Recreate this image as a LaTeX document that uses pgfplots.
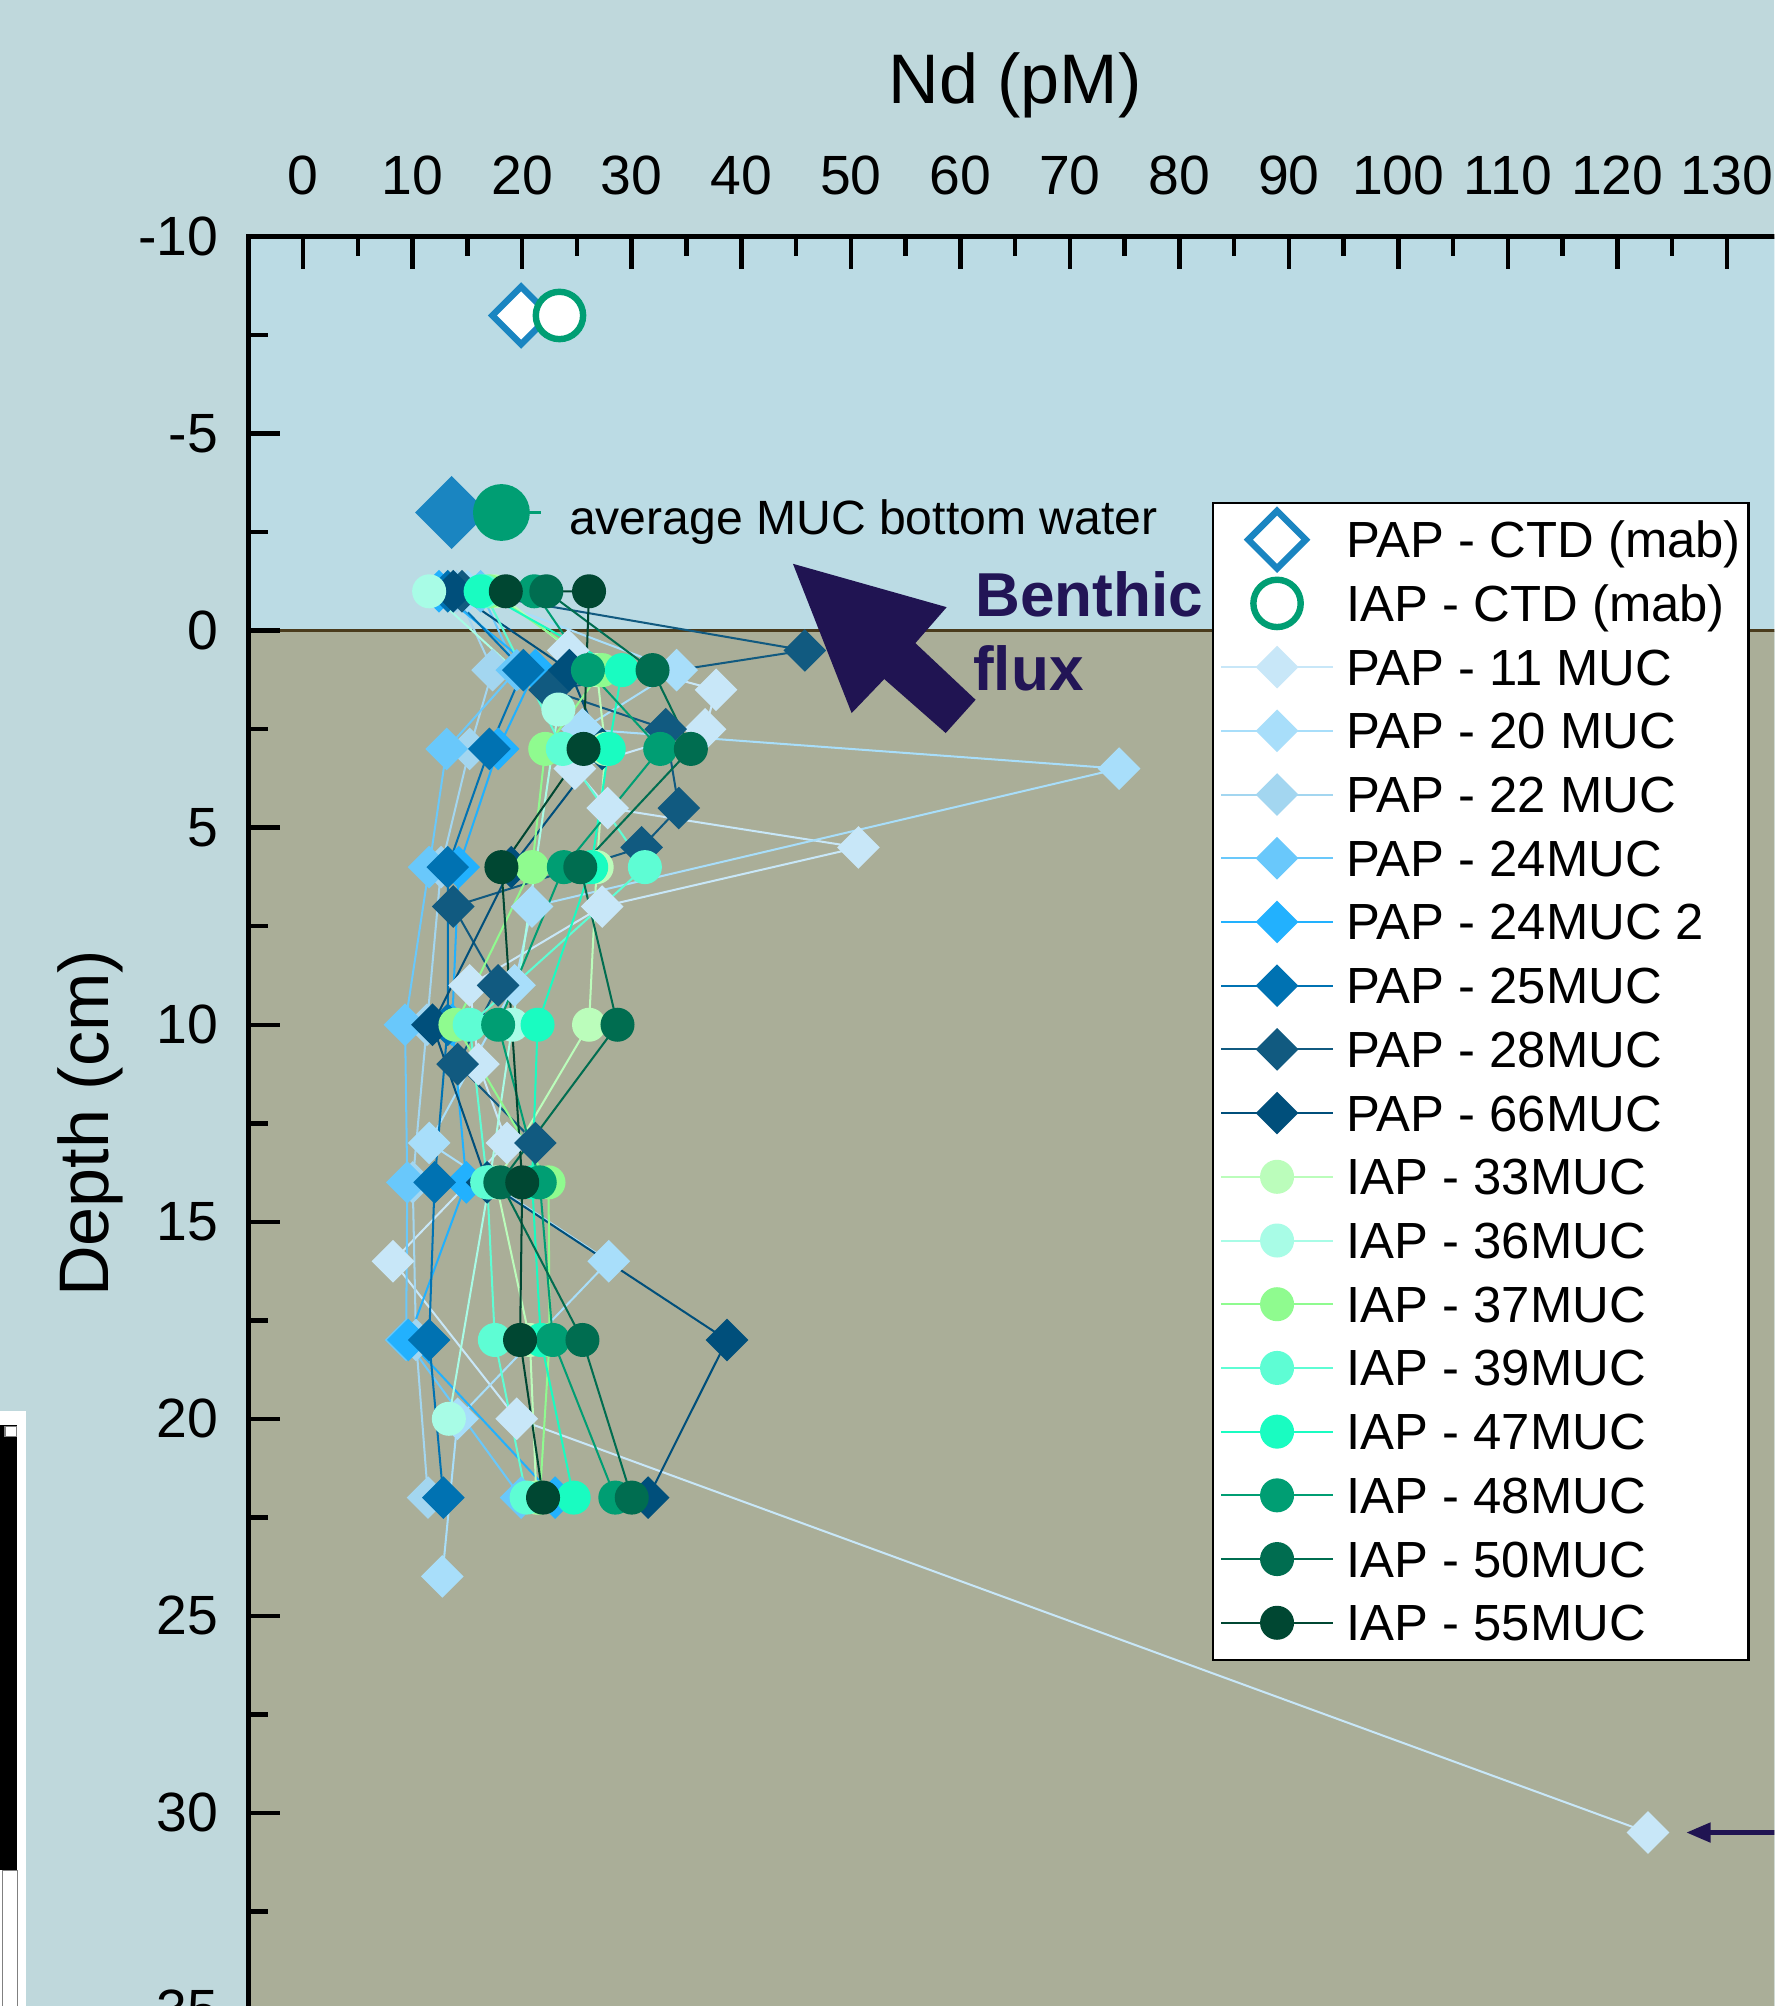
\documentclass[border=0pt]{standalone}
\usepackage{pgfplots}
\pgfplotsset{compat=1.18}
\usepackage{fontspec}
\setmainfont{Liberation Sans}
\usetikzlibrary{arrows.meta}

\definecolor{figbg}{HTML}{BFD8DC}
\definecolor{water}{HTML}{BBDBE4}
\definecolor{sed}{HTML}{AAAE98}
\definecolor{zeroline}{HTML}{4A3B1C}
\definecolor{navyarrow}{HTML}{201452}
\definecolor{benthic}{HTML}{221556}
\definecolor{ctdblue}{HTML}{1A85C1}
\definecolor{ctdgreen}{HTML}{009E73}
\definecolor{cA}{HTML}{C8E7F8}
\definecolor{cB}{HTML}{A8DEFA}
\definecolor{cC}{HTML}{A3D6F0}
\definecolor{cD}{HTML}{69C8FB}
\definecolor{cE}{HTML}{22B1FE}
\definecolor{cF}{HTML}{0072B2}
\definecolor{cG}{HTML}{115A80}
\definecolor{cH}{HTML}{004F7B}
\definecolor{cI}{HTML}{BBFDBB}
\definecolor{cJ}{HTML}{A8FCE6}
\definecolor{cK}{HTML}{8FFB8F}
\definecolor{cL}{HTML}{5EFDD4}
\definecolor{cM}{HTML}{19FCC1}
\definecolor{cN}{HTML}{009E73}
\definecolor{cO}{HTML}{006D50}
\definecolor{cP}{HTML}{004732}

\pgfplotsset{
  pap/.style={color=#1, line width=0.45pt, mark=square*, mark size=0.11cm,
    mark options={rotate=45, fill=#1, draw=none, solid}},
  iap/.style={color=#1, line width=0.45pt, mark=*, mark size=0.125cm,
    mark options={fill=#1, draw=none, solid}},
}

\begin{document}
\begin{tikzpicture}
\useasboundingbox (0,0) rectangle (13.87,15.68);
\clip (0,0) rectangle (13.87,15.68);
\fill[figbg] (0,0) rectangle (13.87,15.68);
% cropped element at lower left
\fill[white] (0,0) rectangle (0.20,4.65);
\fill[black] (0,1.06) rectangle (0.13,4.54);
\filldraw[fill=white, draw=gray, line width=0.3pt] (0.04,4.45) rectangle (0.13,4.53);
\filldraw[fill=white, draw=gray, line width=0.3pt] (0.02,-0.2) rectangle (0.135,1.06);

\begin{axis}[
  at={(1.942cm,13.83cm)}, anchor=north west,
  scale only axis, width=11.984cm, height=13.86cm,
  xmin=-5, xmax=135, ymin=-10, ymax=35, y dir=reverse,
  clip=false, axis on top,
  axis background/.style={fill=water},
  axis line style={line width=1pt, black},
  every tick/.style={black, line width=1pt},
  major tick length=0.25cm, minor tick length=0.15cm,
  tick align=inside,
  xtick pos=right, ytick pos=left,
  xtick={0,10,20,30,40,50,60,70,80,90,100,110,120,130},
  xticklabels={0,10,20,30,40,50,60,70,80,90,100,110,120,130},
  minor x tick num=1,
  ytick={-10,-5,0,5,10,15,20,25,30,35},
  yticklabels={-10,-5,0,5,10,15,20,25,30,35},
  minor y tick num=1,
  xticklabel pos=upper,
  tick label style={font=\fontsize{12.3}{14}\selectfont},
  xticklabel style={anchor=base, yshift=0.33cm, inner sep=0pt},
  yticklabel style={anchor=east, xshift=-0.23cm, inner sep=0pt},
  xlabel={Nd (pM)},
  ylabel={Depth (cm)},
  xlabel style={at={(axis description cs:0.5,1.0750)}, anchor=base, font=\fontsize{15.6}{18}\selectfont},
  ylabel style={at={(axis description cs:-0.0910,0.5)}, anchor=base, font=\fontsize{15.6}{18}\selectfont},
  legend image code/.code={\draw[mark repeat=2,mark phase=2,#1] plot coordinates {(0cm,0cm) (0.435cm,0cm) (0.87cm,0cm)};},
  legend style={at={(axis description cs:0.6282,0.8506)}, anchor=north west,
    draw=black, line width=0.5pt, fill=white,
    font=\fontsize{11.3}{13}\selectfont,
    inner xsep=0.06cm, inner ysep=0.04cm, row sep=0pt, column sep=0.10cm,
    cells={anchor=west},
    nodes={inner xsep=0pt, inner ysep=0.02cm, text height=0.37cm, text depth=0.088cm}},
]
\fill[sed] (axis cs:-5,0) rectangle (axis cs:135,35);
\draw[zeroline, line width=0.02cm] (axis cs:-5,0) -- (axis cs:135,0);

% CTD (mab)
\addplot[color=ctdblue, only marks, mark=square*, mark size=0.159cm,
  mark options={rotate=45, draw=ctdblue, fill=white, line width=0.05cm}]
  coordinates {(19.9,-8)};
\addlegendentry{PAP - CTD (mab)}
\addplot[color=ctdgreen, only marks, mark=*, mark size=0.185cm,
  mark options={draw=ctdgreen, fill=white, line width=0.05cm}]
  coordinates {(23.4,-8)};
\addlegendentry{IAP - CTD (mab)}

% average MUC bottom water
\addplot[forget plot, color=ctdblue, only marks, mark=square*, mark size=0.195cm,
  mark options={rotate=45, fill=ctdblue, draw=none}] coordinates {(13.55,-3)};
\addplot[forget plot, color=ctdgreen, line width=0.6pt] coordinates {(14.7,-3) (21.7,-3)};
\addplot[forget plot, color=ctdgreen, only marks, mark=*, mark size=0.215cm,
  mark options={fill=ctdgreen, draw=none}] coordinates {(18.1,-3)};

% PAP cores
\addplot[pap=cA] coordinates {(24.2,0.5) (37.7,1.5) (36.7,2.5) (24.8,3.5) (27.8,4.5) (50.7,5.5) (27.3,7) (15.2,9) (16.0,11) (18.6,13) (8.2,16) (19.5,20) (122.8,30.5)};
\addlegendentry{PAP - 11 MUC}
\addplot[pap=cB] coordinates {(15.0,-1) (34.1,1) (25.5,2.5) (74.5,3.5) (20.9,7) (19.3,9) (11.5,13) (27.9,16) (14.1,20) (12.7,24)};
\addlegendentry{PAP - 20 MUC}
\addplot[pap=cC] coordinates {(14.0,-1) (17.3,1) (15.2,3) (12.6,6) (11.3,10) (10.0,14) (10.3,18) (11.4,22)};
\addlegendentry{PAP - 22 MUC}
\addplot[pap=cD] coordinates {(16.2,-1) (19.5,1) (13.1,3) (11.5,6) (9.3,10) (9.5,14) (9.4,18) (19.9,22)};
\addlegendentry{PAP - 24MUC}
\addplot[pap=cE] coordinates {(12.4,-1) (21.2,1) (17.8,3) (14.2,6) (13.6,10) (14.9,14) (9.6,18) (23.0,22)};
\addlegendentry{PAP - 24MUC 2}
\addplot[pap=cF] coordinates {(13.2,-1) (20.1,1) (17.0,3) (13.2,6) (13.2,10) (12.0,14) (11.5,18) (12.8,22)};
\addlegendentry{PAP - 25MUC}
\addplot[pap=cG] coordinates {(14.5,-1) (45.8,0.5) (22.5,1.5) (33.1,2.5) (34.3,4.5) (30.9,5.5) (13.7,7) (17.8,9) (14.1,11) (21.2,13)};
\addlegendentry{PAP - 28MUC}
\addplot[pap=cH] coordinates {(13.7,-1) (24.3,1) (27.3,3) (19.0,6) (11.8,10) (16.8,14) (38.7,18) (31.5,22)};
\addlegendentry{PAP - 66MUC}

% IAP cores
\addplot[iap=cI] coordinates {(17.5,-1) (26.8,1) (27.6,3) (26.8,6) (26.1,10) (17.6,14) (20.7,18) (21.3,22)};
\addlegendentry{IAP - 33MUC}
\addplot[iap=cJ] coordinates {(11.5,-1) (23.3,2) (19.1,10) (17.0,14) (13.3,20)};
\addlegendentry{IAP - 36MUC}
\addplot[iap=cK] coordinates {(17.0,-1) (27.3,1) (22.1,3) (20.9,6) (13.9,10) (22.4,14) (22.5,18) (21.6,22)};
\addlegendentry{IAP - 37MUC}
\addplot[iap=cL] coordinates {(16.5,-1) (23.7,3) (31.2,6) (15.2,10) (16.8,14) (17.5,18) (20.4,22)};
\addlegendentry{IAP - 39MUC}
\addplot[iap=cM] coordinates {(16.2,-1) (29.1,1) (27.9,3) (26.3,6) (21.4,10) (20.9,14) (21.7,18) (24.7,22)};
\addlegendentry{IAP - 47MUC}
\addplot[iap=cN] coordinates {(21.1,-1) (26.0,1) (32.6,3) (23.8,6) (17.8,10) (21.6,14) (22.8,18) (28.5,22)};
\addlegendentry{IAP - 48MUC}
\addplot[iap=cO] coordinates {(22.2,-1) (31.9,1) (35.4,3) (25.3,6) (28.7,10) (18.0,14) (25.5,18) (30.0,22)};
\addlegendentry{IAP - 50MUC}
\addplot[iap=cP] coordinates {(18.5,-1) (26.1,-1) (25.6,3) (18.1,6) (20.0,14) (19.8,18) (21.9,22)};
\addlegendentry{IAP - 55MUC}

% annotations
\node[anchor=base west, inner sep=0pt, font=\fontsize{10.7}{12}\selectfont] at (axis cs:24.2,-2.45) {average MUC bottom water};
\fill[navyarrow] (axis cs:44.72,-1.698) -- (axis cs:58.76,-0.597) -- (axis cs:55.90,0.315) -- (axis cs:61.40,1.753) -- (axis cs:58.67,2.597) -- (axis cs:53.06,1.227) -- (axis cs:50.08,2.091) -- cycle;
\node[anchor=base west, inner sep=0pt, text=benthic, font=\fontsize{13.8}{16}\selectfont\bfseries] at (axis cs:61.3,-0.36) {Benthic};
\node[anchor=base west, inner sep=0pt, text=benthic, font=\fontsize{13.8}{16}\selectfont\bfseries] at (axis cs:61.1,1.53) {flux};
\draw[navyarrow, line width=0.035cm, -{Triangle[length=0.19cm, width=0.15cm]}] (axis cs:140,30.5) -- (axis cs:126.3,30.5);
\end{axis}
\end{tikzpicture}
\end{document}
